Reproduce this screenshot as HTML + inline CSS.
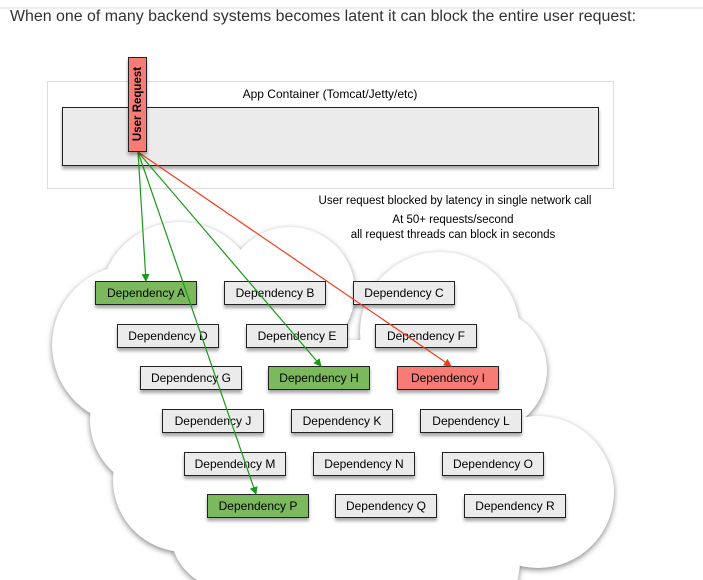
<!DOCTYPE html>
<html><head><meta charset="utf-8"><style>
html,body{margin:0;padding:0;background:#fff;width:703px;height:580px;overflow:hidden}
svg{display:block}
text{font-family:"Liberation Sans",sans-serif}
</style></head><body>
<svg width="703" height="580" viewBox="0 0 703 580" xmlns="http://www.w3.org/2000/svg">
<defs>
<filter id="blur" x="-20%" y="-20%" width="140%" height="140%"><feGaussianBlur stdDeviation="3"/></filter>
<filter id="bs" x="-20%" y="-30%" width="140%" height="170%"><feDropShadow dx="0" dy="3" stdDeviation="1.5" flood-color="#000" flood-opacity="0.35"/></filter>
<marker id="ag" markerWidth="8" markerHeight="8" refX="7" refY="4" orient="auto" markerUnits="userSpaceOnUse"><path d="M0,0 L8,4 L0,8 z" fill="#1a9a1a"/></marker>
<marker id="ar" markerWidth="8" markerHeight="8" refX="7" refY="4" orient="auto" markerUnits="userSpaceOnUse"><path d="M0,0 L8,4 L0,8 z" fill="#f03c1e"/></marker>
<g id="cloud">
<circle cx="180" cy="302" r="80"/>
<circle cx="290" cy="292" r="65"/>
<circle cx="440" cy="332" r="80"/>
<circle cx="485" cy="370" r="62"/>
<circle cx="132" cy="345" r="80"/>
<circle cx="160" cy="420" r="70"/>
<circle cx="185" cy="480" r="72"/>
<circle cx="230" cy="530" r="60"/>
<circle cx="538" cy="492" r="76"/>
<circle cx="310" cy="545" r="80"/>
<circle cx="440" cy="560" r="80"/>
<rect x="200" y="340" width="310" height="240"/>
</g>
</defs>
<line x1="0" y1="8" x2="703" y2="8" stroke="#ddd" stroke-width="1"/>
<text x="10" y="21" font-size="15.5" fill="#333" textLength="626" lengthAdjust="spacingAndGlyphs">When one of many backend systems becomes latent it can block the entire user request:</text>

<rect x="47.5" y="81.5" width="566" height="107" fill="#fff" stroke="#ddd"/>
<text x="330" y="98" font-size="12" text-anchor="middle" fill="#000">App Container (Tomcat/Jetty/etc)</text>
<rect x="62.5" y="107.5" width="536" height="58" fill="#ebebeb" stroke="#222" filter="url(#bs)"/>

<text x="455" y="204" font-size="11.5" text-anchor="middle">User request blocked by latency in single network call</text>
<text x="453" y="223" font-size="11.5" text-anchor="middle">At 50+ requests/second</text>
<text x="453" y="238" font-size="11.5" text-anchor="middle">all request threads can block in seconds</text>

<g fill="#888" filter="url(#blur)" transform="translate(0,2)"><use href="#cloud"/></g>
<g fill="#fff"><use href="#cloud"/></g>

<g font-size="12" text-anchor="middle">
<g filter="url(#bs)" stroke="#222">
<rect x="95.5" y="281.5" width="101" height="23" fill="#7cb95c"/>
<rect x="224.5" y="281.5" width="101" height="23" fill="#ebebeb"/>
<rect x="353.5" y="281.5" width="101" height="23" fill="#ebebeb"/>
<rect x="117.5" y="324.5" width="101" height="23" fill="#ebebeb"/>
<rect x="246.5" y="324.5" width="101" height="23" fill="#ebebeb"/>
<rect x="375.5" y="324.5" width="101" height="23" fill="#ebebeb"/>
<rect x="140.5" y="366.5" width="101" height="23" fill="#ebebeb"/>
<rect x="268.5" y="366.5" width="101" height="23" fill="#7cb95c"/>
<rect x="397.5" y="366.5" width="101" height="23" fill="#f77b76"/>
<rect x="162.5" y="409.5" width="101" height="23" fill="#ebebeb"/>
<rect x="291.5" y="409.5" width="101" height="23" fill="#ebebeb"/>
<rect x="420.5" y="409.5" width="101" height="23" fill="#ebebeb"/>
<rect x="184.5" y="452.5" width="101" height="23" fill="#ebebeb"/>
<rect x="313.5" y="452.5" width="101" height="23" fill="#ebebeb"/>
<rect x="442.5" y="452.5" width="101" height="23" fill="#ebebeb"/>
<rect x="207.5" y="494.5" width="101" height="23" fill="#7cb95c"/>
<rect x="335.5" y="494.5" width="101" height="23" fill="#ebebeb"/>
<rect x="464.5" y="494.5" width="101" height="23" fill="#ebebeb"/>
</g>
<text x="146" y="297">Dependency A</text>
<text x="275" y="297">Dependency B</text>
<text x="404" y="297">Dependency C</text>
<text x="168" y="340">Dependency D</text>
<text x="297" y="340">Dependency E</text>
<text x="426" y="340">Dependency F</text>
<text x="191" y="382">Dependency G</text>
<text x="319" y="382">Dependency H</text>
<text x="448" y="382">Dependency I</text>
<text x="213" y="425">Dependency J</text>
<text x="342" y="425">Dependency K</text>
<text x="471" y="425">Dependency L</text>
<text x="235" y="468">Dependency M</text>
<text x="364" y="468">Dependency N</text>
<text x="493" y="468">Dependency O</text>
<text x="258" y="510">Dependency P</text>
<text x="386" y="510">Dependency Q</text>
<text x="515" y="510">Dependency R</text>
</g>

<g stroke-width="1.2" fill="none">
<line x1="138" y1="152" x2="146" y2="281" stroke="#1a9a1a" marker-end="url(#ag)"/>
<line x1="138" y1="152" x2="256" y2="494" stroke="#1a9a1a" marker-end="url(#ag)"/>
<line x1="138" y1="152" x2="321" y2="366" stroke="#1a9a1a" marker-end="url(#ag)"/>
<line x1="138" y1="152" x2="451" y2="366" stroke="#f03c1e" marker-end="url(#ar)"/>
</g>

<rect x="128.5" y="57.5" width="18" height="94" fill="#f77b76" stroke="#222" filter="url(#bs)"/>
<text transform="translate(141,104) rotate(-90)" font-size="11.5" font-weight="bold" text-anchor="middle">User Request</text>
</svg>
</body></html>
